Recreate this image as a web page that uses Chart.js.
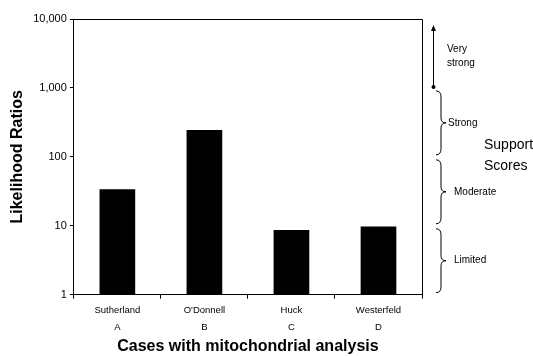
<!DOCTYPE html>
<html>
<head>
<meta charset="utf-8">
<script src="https://cdn.jsdelivr.net/npm/chart.js@4"></script>
<style>
  html, body { margin: 0; padding: 0; background: #fff; }
  #wrap { width: 533px; height: 356px; }
</style>
</head>
<body>
<div id="wrap"><canvas id="chart"></canvas></div>
<script>
const cases = ['Sutherland', "O'Donnell", 'Huck', 'Westerfeld'];
const caseLetters = ['A', 'B', 'C', 'D'];
const ratios = [34, 245, 8.7, 9.8];
const yTicks = [1, 10, 100, 1000, 10000];
const scoreBands = [
  { label: ['Limited'], from: 1, to: 10 },
  { label: ['Moderate'], from: 10, to: 100 },
  { label: ['Strong'], from: 100, to: 1000 }
];
const arrowBand = { label: ['Very', 'strong'], from: 1000, to: 10000 };
const sideTitle = ['Support', 'Scores'];

const FONT = "'Liberation Sans', Arial, sans-serif";

function brace(ctx, x, y1, y2, w) {
  const mid = (y1 + y2) / 2;
  ctx.beginPath();
  ctx.moveTo(x, y1);
  ctx.quadraticCurveTo(x + w / 2, y1, x + w / 2, y1 + 6);
  ctx.lineTo(x + w / 2, mid - 5);
  ctx.quadraticCurveTo(x + w / 2, mid, x + w, mid);
  ctx.quadraticCurveTo(x + w / 2, mid, x + w / 2, mid + 5);
  ctx.lineTo(x + w / 2, y2 - 6);
  ctx.quadraticCurveTo(x + w / 2, y2, x, y2);
  ctx.stroke();
}

const annotations = {
  id: 'annotations',
  afterDraw(chart) {
    const ctx = chart.ctx;
    const a = chart.chartArea;
    const y = chart.scales.y;
    ctx.save();
    // box top and right
    ctx.strokeStyle = '#000';
    ctx.lineWidth = 1;
    ctx.beginPath();
    ctx.moveTo(a.left, a.top + 0.5);
    ctx.lineTo(a.right + 0.5, a.top + 0.5);
    ctx.lineTo(a.right + 0.5, a.bottom);
    ctx.stroke();

    ctx.font = '10px ' + FONT;
    ctx.fillStyle = '#000';
    ctx.textBaseline = 'middle';
    const bx = a.right + 14;
    scoreBands.forEach((b, i) => {
      const y1 = y.getPixelForValue(b.to) + 3;
      const y2 = y.getPixelForValue(b.from) - 2;
      brace(ctx, bx, y1, y2, 10);
      const mid = (y1 + y2) / 2;
      const tx = b.label[0] === 'Strong' ? bx + 12 : bx + 18;
      ctx.fillText(b.label[0], tx, mid);
    });

    // arrow for very strong
    const ax = a.right + 11.5;
    const ay1 = y.getPixelForValue(arrowBand.to) + 6;
    const ay2 = y.getPixelForValue(arrowBand.from) - 1;
    ctx.beginPath();
    ctx.moveTo(ax, ay1 + 3);
    ctx.lineTo(ax, ay2);
    ctx.stroke();
    ctx.beginPath();
    ctx.moveTo(ax, ay1);
    ctx.lineTo(ax - 2.5, ay1 + 6);
    ctx.lineTo(ax + 2.5, ay1 + 6);
    ctx.closePath();
    ctx.fill();
    ctx.beginPath();
    ctx.arc(ax, ay2, 2, 0, Math.PI * 2);
    ctx.fill();
    const amid = (ay1 + ay2) / 2;
    ctx.fillText(arrowBand.label[0], a.right + 25, amid - 7);
    ctx.fillText(arrowBand.label[1], a.right + 25, amid + 7);

    // side title
    ctx.font = '14px ' + FONT;
    const sy = y.getPixelForValue(100);
    ctx.fillText(sideTitle[0], a.right + 62, sy - 12);
    ctx.fillText(sideTitle[1], a.right + 62, sy + 9);
    ctx.restore();
  }
};

new Chart(document.getElementById('chart'), {
  type: 'bar',
  data: {
    labels: cases.map((c, i) => [c, caseLetters[i]]),
    datasets: [{
      data: ratios,
      backgroundColor: '#000',
      borderWidth: 0,
      barPercentage: 0.41,
      categoryPercentage: 1
    }]
  },
  options: {
    responsive: true,
    maintainAspectRatio: false,
    animation: false,
    devicePixelRatio: 1,
    layout: { padding: { top: 19, right: 111, bottom: 0, left: 8 } },
    plugins: {
      legend: { display: false },
      tooltip: { enabled: false }
    },
    scales: {
      x: {
        offset: true,
        grid: {
          display: true,
          offset: true,
          drawOnChartArea: false,
          drawTicks: true,
          tickLength: 4,
          color: '#000'
        },
        border: { color: '#000', width: 1 },
        ticks: {
          color: '#000',
          font: { family: FONT, size: 9.5, lineHeight: 1.7 },
          padding: 4,
          maxRotation: 0
        },
        title: {
          display: true,
          text: 'Cases with mitochondrial analysis',
          color: '#000',
          font: { family: FONT, size: 16, weight: 'bold', lineHeight: 1.0 },
          padding: { top: 0, bottom: 1 }
        }
      },
      y: {
        type: 'logarithmic',
        min: 1,
        max: 10000,
        afterBuildTicks(scale) {
          scale.ticks = yTicks.map(v => ({ value: v }));
        },
        grid: {
          display: true,
          drawOnChartArea: false,
          drawTicks: true,
          tickLength: 4,
          color: '#000'
        },
        border: { color: '#000', width: 1 },
        ticks: {
          color: '#000',
          font: { family: FONT, size: 11 },
          padding: 3,
          callback: v => v.toLocaleString('en-US')
        },
        title: {
          display: true,
          text: 'Likelihood Ratios',
          color: '#000',
          font: { family: FONT, size: 16, weight: 'bold' },
          padding: { top: 0, bottom: 3 }
        }
      }
    }
  },
  plugins: [annotations]
});
</script>
</body>
</html>
